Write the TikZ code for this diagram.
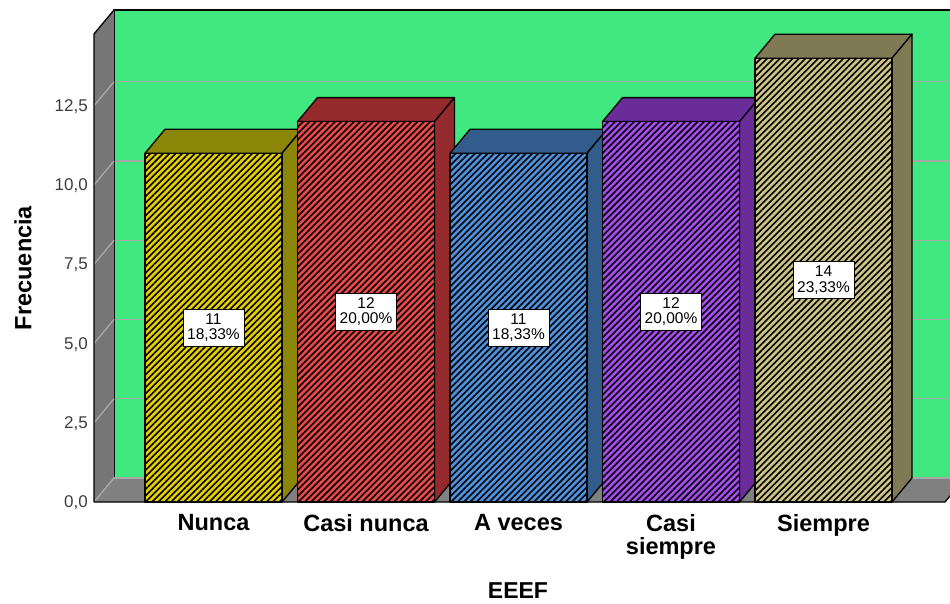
\documentclass[tikz,border=0pt]{standalone}
\usepackage{fontspec}
\setmainfont{Liberation Sans}
\usetikzlibrary{patterns.meta}
\definecolor{wallgreen}{RGB}{64,232,127}
\definecolor{wallgray}{RGB}{118,118,118}
\definecolor{floorgray}{RGB}{128,128,128}
\definecolor{gridgray}{RGB}{165,170,165}
\definecolor{ticktext}{RGB}{60,60,60}
\definecolor{yfront}{RGB}{228,208,0}
\definecolor{ydark}{RGB}{140,134,8}
\definecolor{rfront}{RGB}{232,72,72}
\definecolor{rdark}{RGB}{148,42,44}
\definecolor{bfront}{RGB}{78,146,222}
\definecolor{bdark}{RGB}{50,92,140}
\definecolor{pfront}{RGB}{166,76,238}
\definecolor{pdark}{RGB}{106,44,152}
\definecolor{kfront}{RGB}{206,196,132}
\definecolor{kdark}{RGB}{128,122,84}
\tikzset{
  edge/.style={draw=black, line width=1.3pt, line join=round},
  gridln/.style={draw=gridgray, line width=1.3pt},
  hatch/.style={pattern={Lines[angle=45,distance=4.5pt,line width=1.6pt]}, pattern color=black},
  ticklab/.style={anchor=east, inner sep=0pt, text=ticktext, font=\fontsize{17}{20}\selectfont},
  catlab/.style={anchor=north, inner sep=0pt, align=center, font=\fontsize{23.5}{23}\selectfont\bfseries},
  vallab/.style={draw=black, line width=0.8pt, fill=white, align=center, inner sep=1.5pt,
    minimum width=61pt, minimum height=37pt, font=\fontsize{15.5}{15.5}\selectfont},
}
\begin{document}
\begin{tikzpicture}[x=1pt,y=-1pt]
\useasboundingbox (0,0) rectangle (950,603);
\begin{scope}
\clip (0,0) rectangle (950,603);
% back wall
\path[fill=wallgreen] (114,10) rectangle (975,478);
\foreach \g in {2.5,5,7.5,10,12.5}{
  \pgfmathsetmacro{\yb}{478-31.7*\g}
  \path[gridln] (114,\yb) -- (975,\yb);
}
\path[edge] (114,478) -- (114,10) -- (975,10);
% left wall
\path[fill=wallgray] (94,34) -- (114,10) -- (114,478) -- (94,502) -- cycle;
\foreach \g in {0,2.5,5,7.5,10,12.5}{
  \pgfmathsetmacro{\yb}{478-31.7*\g}
  \pgfmathsetmacro{\yf}{502-31.7*\g}
  \path[gridln] (94,\yf) -- (114,\yb);
}
% floor
\path[fill=floorgray] (94,502) -- (114,478) -- (965,478) -- (945,502) -- cycle;
\path[gridln] (114,478) -- (965,478);
\path[gridln] (94,502) -- (114,478);
\path[edge] (94,502) -- (94,34) -- (114,10);
\path[edge] (94,502) -- (945,502) -- (965,478);
% bars
\foreach \i/\v/\p/\cf/\cd in {0/11/{18,33\%}/yfront/ydark, 1/12/{20,00\%}/rfront/rdark, 2/11/{18,33\%}/bfront/bdark, 3/12/{20,00\%}/pfront/pdark, 4/14/{23,33\%}/kfront/kdark}{
  \pgfmathsetmacro{\L}{145+152.5*\i}
  \pgfmathsetmacro{\R}{\L+137}
  \pgfmathsetmacro{\T}{502-31.7*\v}
  \pgfmathsetmacro{\Tb}{\T-24}
  \pgfmathsetmacro{\Lb}{\L+20}
  \pgfmathsetmacro{\Rb}{\R+20}
  \pgfmathsetmacro{\M}{(\T+502)/2}
  \pgfmathsetmacro{\C}{\L+68.5}
  \path[fill=\cd, edge] (\L,\T) -- (\Lb,\Tb) -- (\Rb,\Tb) -- (\R,\T) -- cycle;
  \path[fill=\cd, edge] (\R,502) -- (\Rb,478) -- (\Rb,\Tb) -- (\R,\T) -- cycle;
  \path[fill=\cf] (\L,502) rectangle (\R,\T);
  \path[hatch] (\L,502) rectangle (\R,\T);
  \path[edge] (\L,502) rectangle (\R,\T);
  \node[vallab] (val\i) at (\C,\M) {\v\\\p};
}
\end{scope}
% tick labels
\node[ticklab] (t0) at (88,503) {0,0};
\node[ticklab] (t1) at (88,424) {2,5};
\node[ticklab] (t2) at (88,345) {5,0};
\node[ticklab] (t3) at (88,265) {7,5};
\node[ticklab] (t4) at (88,186) {10,0};
\node[ticklab] (t5) at (88,107) {12,5};
% category labels
\node[catlab] (c0) at (213.5,514) {Nunca};
\node[catlab] (c1) at (366,514) {Casi nunca};
\node[catlab] (c2) at (518.5,514) {A veces};
\node[catlab] (c3) at (671,514) {Casi\\siempre};
\node[catlab] (c4) at (823.5,514) {Siempre};
% axis titles
\node[inner sep=0pt, rotate=90, font=\fontsize{23.5}{24}\selectfont\bfseries] (ytitle) at (23,268) {Frecuencia};
\node[anchor=base, inner sep=0pt, font=\fontsize{23}{24}\selectfont\bfseries] (xtitle) at (518,598) {EEEF};
\end{tikzpicture}
\end{document}
